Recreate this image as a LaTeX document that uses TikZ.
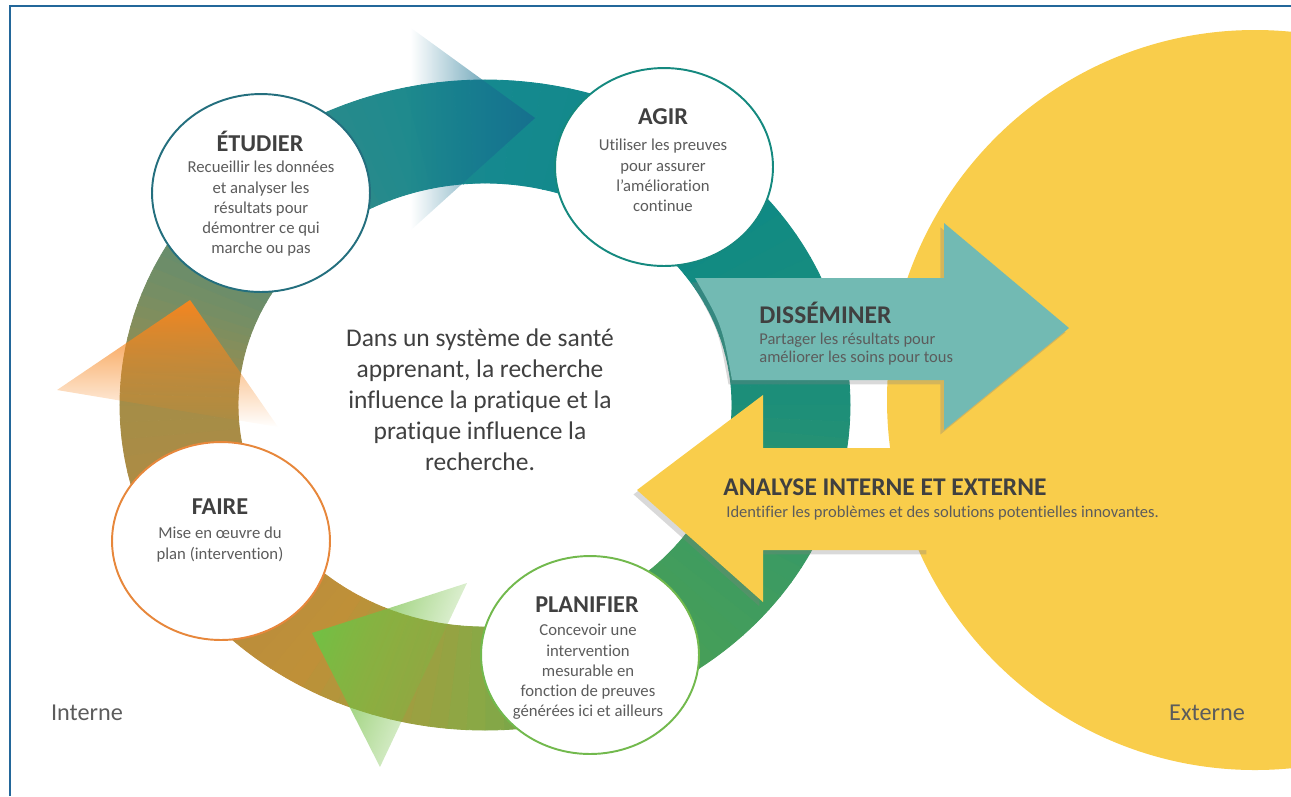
\documentclass[tikz,border=0pt]{standalone}
\usepackage{fontspec}
\setmainfont{Carlito}[Ligatures={NoCommon,NoContextual,NoRequired}, Contextuals=NoAlternate]
\usetikzlibrary{shapes.geometric, fadings, shadows}

\definecolor{framecol}{HTML}{23679A}
\definecolor{jaune}{HTML}{F9CD4B}
\definecolor{dissem}{HTML}{72BAB3}
\definecolor{titlegray}{HTML}{404040}
\definecolor{bodygray}{HTML}{5C5C5C}
\definecolor{etudcol}{HTML}{246F7E}
\definecolor{agircol}{HTML}{15897F}
\definecolor{fairecol}{HTML}{E7873B}
\definecolor{plancol}{HTML}{72B94D}
\definecolor{chevcol}{HTML}{17708F}
\definecolor{orangecol}{HTML}{F6861F}
\definecolor{greencol}{HTML}{74BF44}
\definecolor{ring0}{HTML}{15898F}
\definecolor{ring1}{HTML}{0F8A85}
\definecolor{ring2}{HTML}{1E8F78}
\definecolor{ring3}{HTML}{3C9B62}
\definecolor{ring4}{HTML}{4AA055}
\definecolor{ring5}{HTML}{8AA845}
\definecolor{ring6}{HTML}{BF9038}
\definecolor{ring7}{HTML}{B58B40}
\definecolor{ring8}{HTML}{A48D48}
\definecolor{ring9}{HTML}{768E64}
\definecolor{ring10}{HTML}{4A8B7C}
\definecolor{ring11}{HTML}{268A8C}

\tikzfading[name=fadein right, left color=transparent!100, right color=transparent!0]
\tikzfading[name=fadeout right, left color=transparent!0, middle color=transparent!20, right color=transparent!100]
\tikzfading[name=fadeout down, top color=transparent!0, middle color=transparent!5, bottom color=transparent!100]

\tikzset{
	stage/.style={ellipse, fill=white, line width=1.1pt, minimum width=4.36cm, minimum height=3.96cm, inner sep=0pt},
	stagetitle/.style={font=\fontsize{13.8}{16}\selectfont\bfseries, text=titlegray, inner sep=0pt},
	stagetext/.style={font=\fontsize{9.5}{11.5}\selectfont, text=bodygray, align=center, anchor=north, inner sep=0pt},
	arrowtitle/.style={font=\fontsize{14.5}{17}\selectfont\bfseries, text=titlegray, anchor=west, inner sep=0pt},
	arrowtext/.style={font=\fontsize{9.4}{10.2}\selectfont, text=bodygray, align=left, anchor=north west, inner sep=0pt},
	side/.style={font=\fontsize{13.8}{16}\selectfont, text=bodygray, inner sep=0pt},
	bigarrow/.style={drop shadow={shadow xshift=-2pt, shadow yshift=-2.5pt, opacity=0.3}}
}

\begin{document}
\begin{tikzpicture}[x=0.02cm, y=-0.02cm]
	\useasboundingbox (0,0) rectangle (1291,796);
	\clip (0,0) rectangle (1291,796);

	% ring
	\foreach \sa/\ea/\ca/\cb in {-90/-45/ring0/ring1, -45/0/ring1/ring2, 0/30/ring2/ring3, 30/60/ring3/ring4, 60/90/ring4/ring5, 90/120/ring5/ring6, 120/150/ring6/ring7, 150/180/ring7/ring8, 180/200/ring8/ring9, 200/225/ring9/ring10, 225/245/ring10/ring11, 245/270/ring11/ring0}{
		\foreach \k in {0,...,9}{
			\pgfmathtruncatemacro\pc{100-10*\k}
			\pgfmathsetmacro\sang{\sa+(\ea-\sa)*\k/10}
			\pgfmathsetmacro\eang{\sa+(\ea-\sa)*(\k+1)/10}
			\path[fill=\ca!\pc!\cb, draw=\ca!\pc!\cb, line width=0.5pt, shift={(485,405)}]
				(\sang:365 and 325) arc[start angle=\sang, end angle=\eang, x radius=365, y radius=325]
				-- (\eang:247 and 222) arc[start angle=\eang, end angle=\sang, x radius=247, y radius=222] -- cycle;
		}
	}

	\fill[chevcol, path fading=fadein right] (411,28) -- (535,118) -- (411,230) -- cycle;
	\fill[orangecol, path fading=fadeout down] (190,300) -- (278,427) -- (57,390) -- cycle;
	\fill[greencol, path fading=fadeout right, fading angle=-25] (312,633) -- (467,583) -- (380,767) -- cycle;

	\fill[jaune] (1255,400) ellipse [x radius=368, y radius=370];

	\fill[jaune, bigarrow] (930,448) -- (763,448) -- (763,395) -- (637,490) -- (763,602) -- (763,550) -- (930,550) -- cycle;
	\fill[dissem, bigarrow] (695,278) -- (944,278) -- (944,223) -- (1069,328) -- (944,430) -- (944,380) -- (732,380) .. controls (722,325) .. (695,278) -- cycle;

	\node[stage, draw=etudcol] (etudier) at (261,193) {};
	\node[stage, draw=agircol] (agir) at (664,167) {};
	\node[stage, draw=fairecol] (faire) at (221,541) {};
	\node[stage, draw=plancol] (planifier) at (590,655) {};

	\node[stagetitle] (etudierT) at (260,141) {ÉTUDIER};
	\node[stagetext] (etudierB) at (261,161) {Recueillir les données\\et analyser les\\résultats pour\\démontrer ce qui\\marche ou pas};
	\node[stagetitle] (agirT) at (663,117) {AGIR};
	\node[stagetext] (agirB) at (663,139) {Utiliser les preuves\\pour assurer\\l’amélioration\\continue};
	\node[stagetitle] (faireT) at (220,507) {FAIRE};
	\node[stagetext] (faireB) at (220,527) {Mise en œuvre du\\plan (intervention)};
	\node[stagetitle] (planifierT) at (587,605) {PLANIFIER};
	\node[stagetext] (planifierB) at (588,624) {Concevoir une\\intervention\\mesurable en\\fonction de preuves\\générées ici et ailleurs};

	\node[arrowtitle] (dissemT) at (759,313) {DISSÉMINER};
	\node[arrowtext] (dissemB) at (759,333) {Partager les résultats pour\\améliorer les soins pour tous};
	\node[arrowtitle] (analyseT) at (723,487) {ANALYSE INTERNE ET EXTERNE};
	\node[arrowtext] (analyseB) at (726,506) {Identifier les problèmes et des solutions potentielles innovantes.};

	\node[align=center, font=\fontsize{14.5}{17.6}\selectfont, text=titlegray] (msg) at (480,400) {Dans un système de santé\\apprenant, la recherche\\influence la pratique et la\\pratique influence la\\recherche.};

	\node[side] (interne) at (87,713) {Interne};
	\node[side] (externe) at (1207,713) {Externe};

	\draw[framecol, line width=1.4pt] (10,796) -- (10,6) -- (1291,6);
\end{tikzpicture}
\end{document}
